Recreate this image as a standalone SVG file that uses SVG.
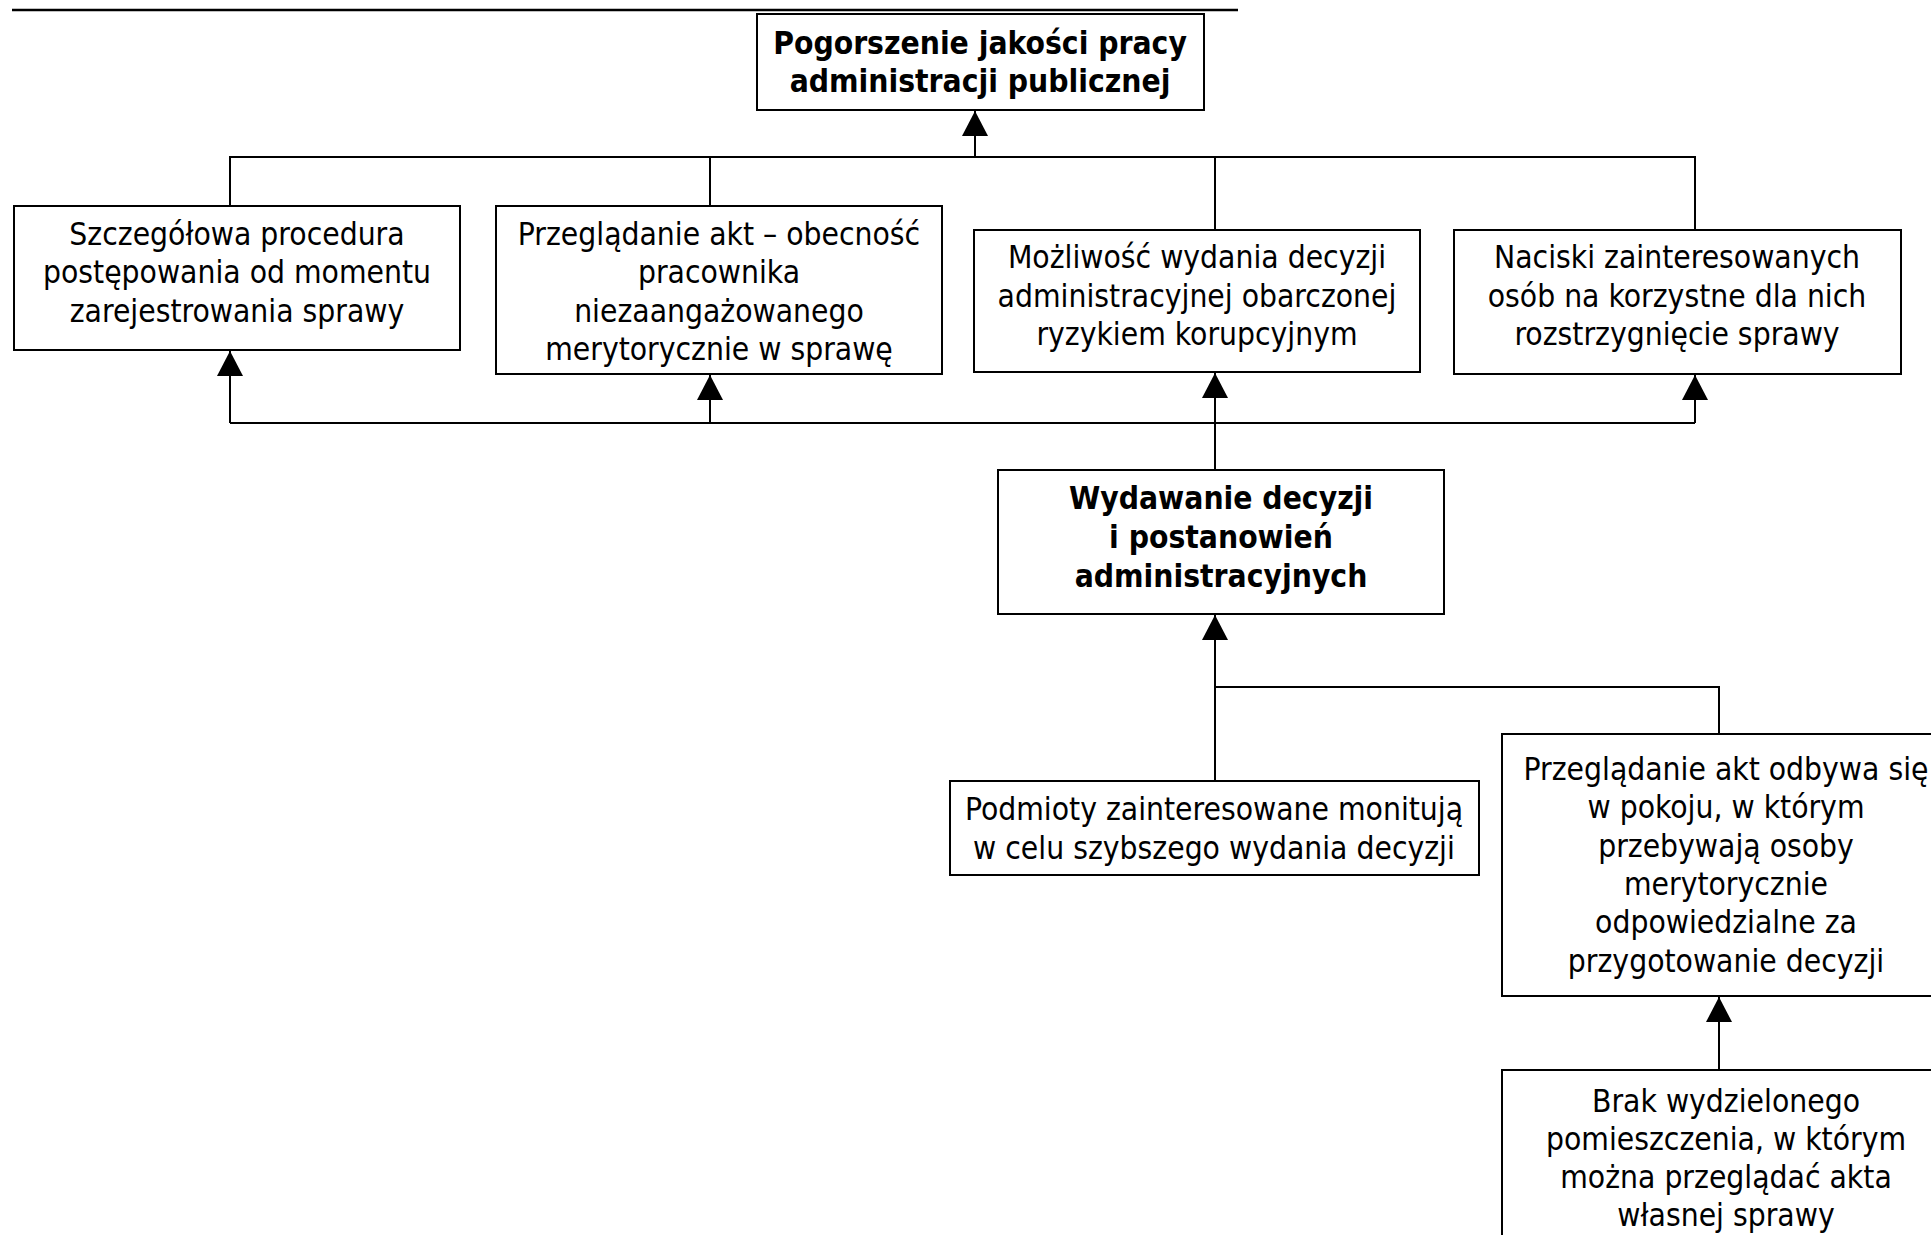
<svg xmlns="http://www.w3.org/2000/svg" width="1931" height="1235" viewBox="0 0 1931 1235">
  <defs>
    <style>
      .box { fill: #ffffff; stroke: #000000; stroke-width: 2; }
      .wire { fill: none; stroke: #000000; stroke-width: 2; }
      .rule { stroke: #000000; stroke-width: 2.5; }
      text { font-family: "DejaVu Sans Condensed", "DejaVu Sans", sans-serif; font-stretch: condensed; font-size: 31.5px; fill: #000000; text-anchor: middle; }
      .b { font-weight: bold; }
    </style>
    <!-- solid triangular head, tip on the end of the line -->
    <marker id="arrow" viewBox="0 0 25 26" refX="25" refY="13" markerWidth="25" markerHeight="26" markerUnits="userSpaceOnUse" orient="auto">
      <path d="M0,0 L25,13 L0,26 Z" fill="#000000"/>
    </marker>
  </defs>
  <rect width="1931" height="1235" fill="#ffffff"/>

  <!-- header rule -->
  <line class="rule" x1="12" y1="10" x2="1238" y2="10"/>

  <!-- connectors -->
  <g id="connectors">
    <!-- upper bus feeding the top node -->
    <path class="wire" d="M230,206 V157 H1695 V230"/>
    <path class="wire" d="M710,157 V206"/>
    <path class="wire" d="M1215,157 V230"/>
    <line class="wire" x1="975" y1="157" x2="975" y2="111" marker-end="url(#arrow)"/>

    <!-- lower bus from the decision node to the four causes -->
    <path class="wire" d="M230,423 H1695"/>
    <line class="wire" x1="230" y1="423" x2="230" y2="351" marker-end="url(#arrow)"/>
    <line class="wire" x1="710" y1="423" x2="710" y2="375" marker-end="url(#arrow)"/>
    <line class="wire" x1="1215" y1="423" x2="1215" y2="373" marker-end="url(#arrow)"/>
    <line class="wire" x1="1695" y1="423" x2="1695" y2="375" marker-end="url(#arrow)"/>
    <path class="wire" d="M1215,423 V470"/>

    <!-- sub-causes feeding the decision node -->
    <line class="wire" x1="1215" y1="687" x2="1215" y2="615" marker-end="url(#arrow)"/>
    <path class="wire" d="M1215,781 V687 H1719 V734"/>
    <line class="wire" x1="1719" y1="1070" x2="1719" y2="997" marker-end="url(#arrow)"/>
  </g>

  <g id="n-top">
    <rect class="box" x="757" y="14" width="447" height="96"/>
    <text class="b" x="980" y="54">Pogorszenie jakości pracy</text>
    <text class="b" x="980" y="92">administracji publicznej</text>
  </g>

  <g id="n-procedura">
    <rect class="box" x="14" y="206" width="446" height="144"/>
    <text x="237" y="245">Szczegółowa procedura</text>
    <text x="237" y="283">postępowania od momentu</text>
    <text x="237" y="322">zarejestrowania sprawy</text>
  </g>

  <g id="n-przegladanie">
    <rect class="box" x="496" y="206" width="446" height="168"/>
    <text x="719" y="245">Przeglądanie akt – obecność</text>
    <text x="719" y="283">pracownika</text>
    <text x="719" y="322">niezaangażowanego</text>
    <text x="719" y="360">merytorycznie w sprawę</text>
  </g>

  <g id="n-mozliwosc">
    <rect class="box" x="974" y="230" width="446" height="142"/>
    <text x="1197" y="268">Możliwość wydania decyzji</text>
    <text x="1197" y="307">administracyjnej obarczonej</text>
    <text x="1197" y="345">ryzykiem korupcyjnym</text>
  </g>

  <g id="n-naciski">
    <rect class="box" x="1454" y="230" width="447" height="144"/>
    <text x="1677" y="268">Naciski zainteresowanych</text>
    <text x="1677" y="307">osób na korzystne dla nich</text>
    <text x="1677" y="345">rozstrzygnięcie sprawy</text>
  </g>

  <g id="n-wydawanie">
    <rect class="box" x="998" y="470" width="446" height="144"/>
    <text class="b" x="1221" y="509">Wydawanie decyzji</text>
    <text class="b" x="1221" y="548">i postanowień</text>
    <text class="b" x="1221" y="587">administracyjnych</text>
  </g>

  <g id="n-podmioty">
    <rect class="box" x="950" y="781" width="529" height="94"/>
    <text x="1214" y="820">Podmioty zainteresowane monitują</text>
    <text x="1214" y="859">w celu szybszego wydania decyzji</text>
  </g>

  <g id="n-pokoj">
    <rect class="box" x="1502" y="734" width="448" height="262"/>
    <text x="1726" y="780">Przeglądanie akt odbywa się</text>
    <text x="1726" y="818">w pokoju, w którym</text>
    <text x="1726" y="857">przebywają osoby</text>
    <text x="1726" y="895">merytorycznie</text>
    <text x="1726" y="933">odpowiedzialne za</text>
    <text x="1726" y="972">przygotowanie decyzji</text>
  </g>

  <g id="n-pomieszczenie">
    <rect class="box" x="1502" y="1070" width="448" height="200"/>
    <text x="1726" y="1112">Brak wydzielonego</text>
    <text x="1726" y="1150">pomieszczenia, w którym</text>
    <text x="1726" y="1188">można przeglądać akta</text>
    <text x="1726" y="1226">własnej sprawy</text>
  </g>
</svg>
